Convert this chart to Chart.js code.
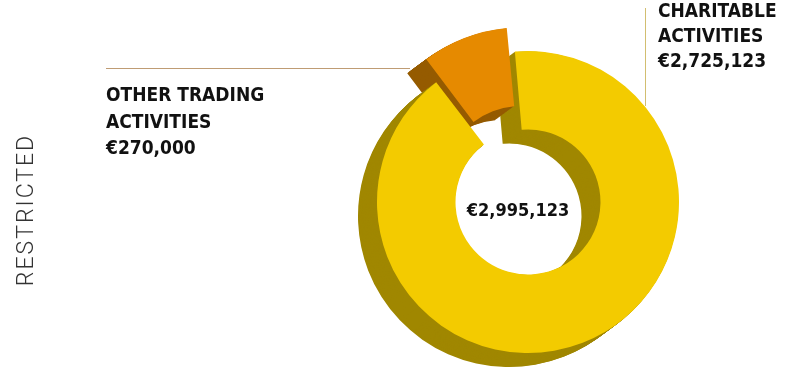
<!DOCTYPE html>
<html>
<head>
<meta charset="utf-8">
<script src="https://cdn.jsdelivr.net/npm/chart.js@4"></script>
<style>
  html, body { margin: 0; padding: 0; background: #fff; overflow: hidden; }
  #wrap { width: 791px; height: 368px; }
</style>
</head>
<body>
<div id="wrap"><canvas id="myChart"></canvas></div>
<script>
const categories = ["CHARITABLE ACTIVITIES", "OTHER TRADING ACTIVITIES"];
const labelLines = [["CHARITABLE", "ACTIVITIES"], ["OTHER TRADING", "ACTIVITIES"]];
const amounts = [2725123, 270000];
const total = 2995123;
const sideLabel = "RESTRICTED";

const faceColors = ["#F3CB00", "#E68A00"];
const sideColors = ["#A08700", "#955B00"];

function euro(v) {
  return "€" + v.toLocaleString("en-US");
}

// fake 3d: draw darker copies of each arc shifted down-left, behind the faces
const extrude = {
  id: "extrude",
  beforeDatasetsDraw(chart) {
    const ctx = chart.ctx;
    const arcs = chart.getDatasetMeta(0).data;
    const steps = 24;
    for (let k = steps; k >= 1; k--) {
      ctx.save();
      ctx.translate(-19 * k / steps, 14 * k / steps);
      arcs.forEach((arc, i) => {
        const opts = arc.options;
        arc.options = Object.assign({}, opts, { backgroundColor: sideColors[i], borderWidth: 0 });
        arc.draw(ctx);
        arc.options = opts;
      });
      ctx.restore();
    }
  }
};

const labels = {
  id: "labels",
  afterDraw(chart) {
    const ctx = chart.ctx;
    ctx.save();

    // leader lines
    ctx.lineWidth = 1;
    ctx.strokeStyle = "#BF9C74";
    ctx.beginPath();
    ctx.moveTo(106, 68.5);
    ctx.lineTo(410, 68.5);
    ctx.stroke();
    ctx.strokeStyle = "#D2BE70";
    ctx.beginPath();
    ctx.moveTo(645.5, 8);
    ctx.lineTo(645.5, 106);
    ctx.stroke();

    ctx.fillStyle = "#111";
    ctx.font = "bold 19px 'DejaVu Sans Condensed', 'Liberation Sans', sans-serif";
    ctx.textAlign = "left";
    ctx.textBaseline = "alphabetic";

    const charitable = labelLines[0].concat([euro(amounts[0])]);
    charitable.forEach((t, i) => ctx.fillText(t, 658, 16.5 + i * 25));

    const other = labelLines[1].concat([euro(amounts[1])]);
    other.forEach((t, i) => ctx.fillText(t, 106, 101 + i * 26.5));

    ctx.font = "bold 18px 'DejaVu Sans Condensed', 'Liberation Sans', sans-serif";
    ctx.textAlign = "center";
    ctx.fillText(euro(total), 518, 216);

    // side caption
    ctx.translate(32.7, 211);
    ctx.rotate(-Math.PI / 2);
    ctx.font = "300 23px Roboto, sans-serif";
    ctx.letterSpacing = "2px";
    ctx.fillStyle = "#333";
    ctx.fillText(sideLabel, 1, 0);
    ctx.restore();
  }
};

const ctx = document.getElementById("myChart");

new Chart(ctx, {
  type: "doughnut",
  data: {
    labels: categories,
    datasets: [
      {
        data: amounts,
        backgroundColor: faceColors,
        borderWidth: 0,
        offset: [0, 68],
        clip: false,
      },
    ],
  },
  options: {
    responsive: true,
    maintainAspectRatio: false,
    animation: false,
    events: [],
    radius: 151,
    cutout: "48%",
    rotation: -5,
    layout: { padding: { left: 265, top: 36, right: 0, bottom: 0 } },
    plugins: {
      legend: { display: false },
      tooltip: { enabled: false },
    },
  },
  plugins: [extrude, labels],
});
</script>
</body>
</html>
